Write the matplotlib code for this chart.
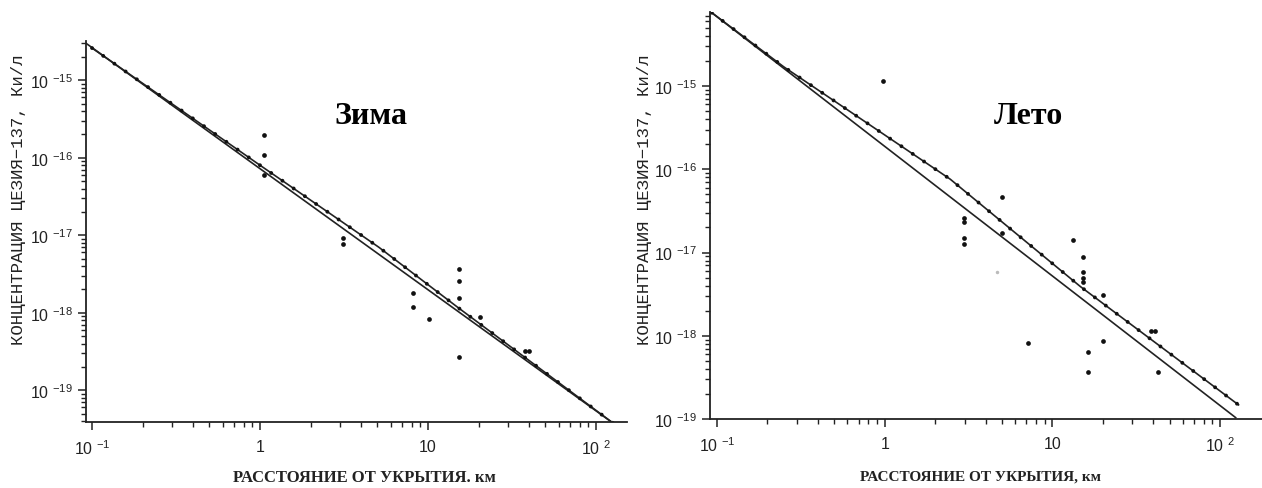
import matplotlib
matplotlib.use("Agg")
import matplotlib.pyplot as plt
from matplotlib.ticker import LogLocator, NullFormatter

plt.rcParams['font.family'] = ['Liberation Sans', 'DejaVu Sans']
plt.rcParams['mathtext.default'] = 'regular'

# measured points, winter
winter_x = [1.05, 1.05, 1.05, 3.1, 3.1, 8.2, 8.2, 10.1, 15.3, 15.3, 15.3, 15.3, 20.4, 38, 40]
winter_y = [1.94e-16, 1.08e-16, 5.9e-17, 9.1e-18, 7.6e-18, 1.8e-18, 1.17e-18, 8.3e-19,
            3.7e-18, 2.6e-18, 1.55e-18, 2.7e-19, 8.9e-19, 3.2e-19, 3.2e-19]

# straight fit and dotted model, winter
winter_fit_x = [0.092, 128]
winter_fit_y = [3.0e-15, 3.7e-20]
winter_model_x = [0.1, 1, 5.1, 15, 128]
winter_model_y = [2.6e-15, 8.0e-17, 7.0e-18, 1.18e-18, 3.7e-20]

# measured points, summer
summer_x = [0.98, 2.98, 2.98, 2.98, 2.98, 5.0, 5.0, 7.2, 13.2, 15.3, 15.3, 15.3, 15.3,
            16.4, 16.4, 20.1, 20.1, 39, 41, 42.4]
summer_y = [1.15e-15, 2.6e-17, 2.35e-17, 1.48e-17, 1.26e-17, 4.6e-17, 1.7e-17, 8.3e-19,
            1.4e-17, 8.9e-18, 5.8e-18, 4.9e-18, 4.4e-18, 6.3e-19, 3.7e-19, 3.1e-18,
            8.7e-19, 1.15e-18, 1.15e-18, 3.7e-19]
summer_faint_x = [4.7]
summer_faint_y = [5.8e-18]

summer_fit_x = [0.093, 124]
summer_fit_y = [7.6e-15, 1.04e-19]
summer_model_x = [0.093, 0.25, 2.46, 14.7, 129]
summer_model_y = [7.6e-15, 1.7e-15, 7.6e-17, 3.9e-18, 1.48e-19]

x_ticks = [0.1, 1, 10, 100]
x_labels = ['10 $^{-1}$', '1', '10', '10 $^{2}$']
y_ticks = [1e-15, 1e-16, 1e-17, 1e-18, 1e-19]
y_labels = ['10 $^{-15}$', '10 $^{-16}$', '10 $^{-17}$', '10 $^{-18}$', '10 $^{-19}$']

ylab = 'КОНЦЕНТРАЦИЯ ЦЕЗИЯ−137, Ки/л'

fig = plt.figure(figsize=(12.62, 4.89), dpi=100)
ax1 = fig.add_axes([0.0681, 0.135, 0.4287, 0.779])
ax2 = fig.add_axes([0.5626, 0.141, 0.4374, 0.832])


def draw(ax, fx, fy, mx, my, px, py, xlim, ylim):
    ax.set_xscale('log')
    ax.set_yscale('log')
    ax.plot(fx, fy, color='#222222', lw=1.2)
    ax.plot(mx, my, color='#222222', lw=1.2)
    # dots along the model line
    ax.plot(mx, my, color='#111111', lw=2.8, dashes=(0.01, 3.5),
            dash_capstyle='round', solid_capstyle='round')
    ax.plot(px, py, 'o', color='#111111', ms=3.4, mew=0)
    ax.set_xlim(*xlim)
    ax.set_ylim(*ylim)
    for s in ['top', 'right']:
        ax.spines[s].set_visible(False)
    for s in ['left', 'bottom']:
        ax.spines[s].set_linewidth(1.3)
        ax.spines[s].set_color('#222222')
    ax.set_xticks(x_ticks, x_labels)
    ax.set_yticks(y_ticks, y_labels)
    ax.xaxis.set_minor_locator(LogLocator(base=10, subs=range(2, 10)))
    ax.yaxis.set_minor_locator(LogLocator(base=10, subs=range(2, 10)))
    ax.xaxis.set_minor_formatter(NullFormatter())
    ax.yaxis.set_minor_formatter(NullFormatter())
    ax.tick_params(which='major', length=6, width=1.1, labelsize=11.5, colors='#222222')
    ax.tick_params(which='minor', length=3.5, width=1.0, colors='#222222')
    ax.tick_params(axis='x', pad=6)


draw(ax1, winter_fit_x, winter_fit_y, winter_model_x, winter_model_y,
     winter_x, winter_y, (0.092, 153), (3.9e-20, 3.2e-15))
draw(ax2, summer_fit_x, summer_fit_y, summer_model_x, summer_model_y,
     summer_x, summer_y, (0.0908, 178), (1e-19, 7.7e-15))
ax2.plot(summer_faint_x, summer_faint_y, 'o', color='#bbbbbb', ms=2.5, mew=0)

fig.text(0.294, 0.761, 'Зима', fontsize=23, fontweight='bold', family='Liberation Serif',
         ha='center', va='center')
fig.text(0.8146, 0.761, 'Лето', fontsize=23, fontweight='bold', family='Liberation Serif',
         ha='center', va='center')

fig.text(0.0143, 0.591, ylab, rotation=90, fontsize=12.5, family='Liberation Mono',
         ha='center', va='center', color='#222222')
fig.text(0.511, 0.591, ylab, rotation=90, fontsize=12.5, family='Liberation Mono',
         ha='center', va='center', color='#222222')

fig.text(0.289, 0.0225, 'РАССТОЯНИЕ ОТ УКРЫТИЯ. км', fontsize=12, fontweight='bold',
         family='Liberation Serif', ha='center', va='center', color='#222222')
fig.text(0.777, 0.0245, 'РАССТОЯНИЕ ОТ УКРЫТИЯ, км', fontsize=11, fontweight='bold',
         family='Liberation Serif', ha='center', va='center', color='#222222')

fig.savefig('out.png', dpi=100)
